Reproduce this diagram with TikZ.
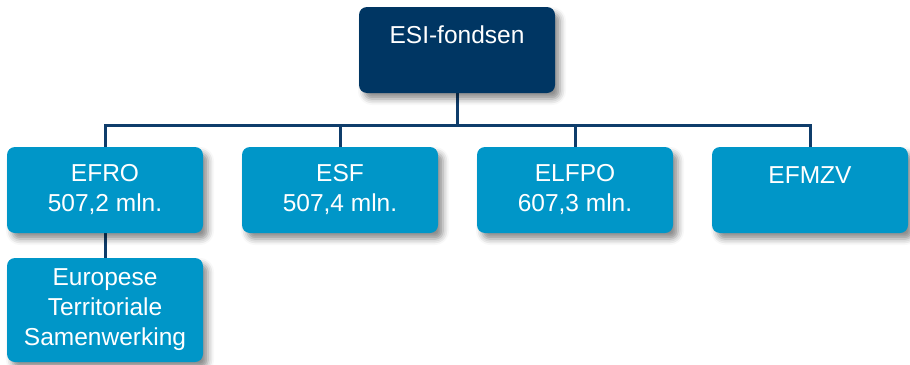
\documentclass[tikz,border=0pt]{standalone}
\usepackage{fontspec}
\setmainfont{Liberation Sans}
\usetikzlibrary{shadows.blur}
\definecolor{navy}{HTML}{003663}
\definecolor{cyanbox}{HTML}{0096C8}
\definecolor{linec}{HTML}{0F3D6B}
\pgfdeclarelayer{bg}
\pgfsetlayers{bg,main}
\begin{document}
\begin{tikzpicture}[x=1pt,y=-1pt,
  box/.style={rectangle, rounded corners=8pt, minimum width=196pt, minimum height=86pt,
    inner sep=0pt, text=white, align=center,
    font=\fontsize{24.5}{30}\selectfont,
    blur shadow={shadow xshift=5pt, shadow yshift=-6pt, shadow blur radius=6pt, shadow opacity=45}},
  lbl/.style={text=white, inner sep=0pt, font=\fontsize{24.5}{30}\selectfont},
  conn/.style={draw=linec, line width=3pt}]
\useasboundingbox (0,0) rectangle (910,364);
\node[box, fill=navy] (esi) at (457,50) {};
\node[lbl] (esit) at (457,35) {ESI-fondsen};
\node[box, fill=cyanbox] (efro) at (105,190) {EFRO\\507,2 mln.};
\node[box, fill=cyanbox] (esf) at (340,190) {ESF\\507,4 mln.};
\node[box, fill=cyanbox] (elfpo) at (575,190) {ELFPO\\607,3 mln.};
\node[box, fill=cyanbox] (efmzv) at (810,190) {};
\node[lbl] (efmzvt) at (810,175) {EFMZV};
\node[box, fill=cyanbox, minimum height=104pt] (ets) at (105,310) {Europese\\Territoriale\\Samenwerking};
\coordinate (bl) at (105,125);
\coordinate (br) at (810,125);
\begin{pgfonlayer}{bg}
\draw[conn] (esi.south) -- (esi.south |- bl);
\draw[conn] (efro.north) -- (bl) -- (br) -- (efmzv.north);
\draw[conn] (esf.north) -- (esf.north |- bl);
\draw[conn] (elfpo.north) -- (elfpo.north |- bl);
\draw[conn] (efro.south) -- (ets.north);
\end{pgfonlayer}
\end{tikzpicture}
\end{document}
